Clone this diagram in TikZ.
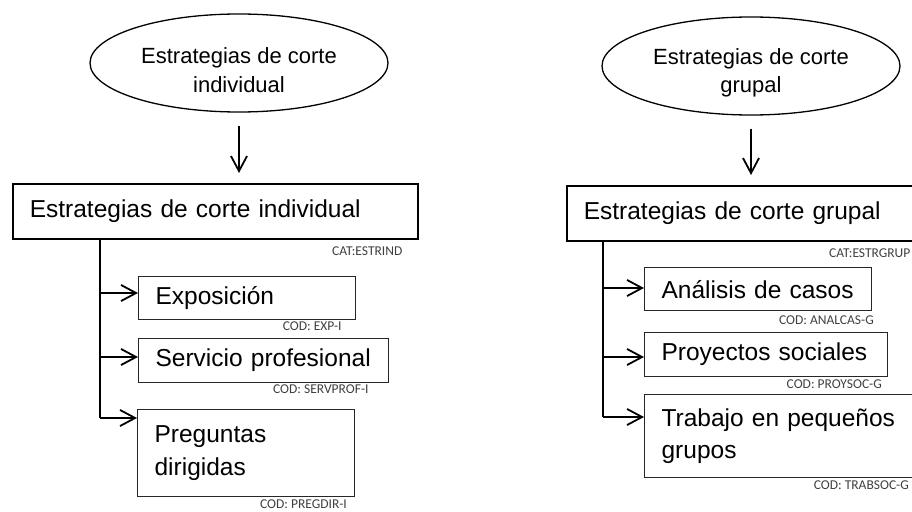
\documentclass[tikz,border=0pt]{standalone}
\usepackage{fontspec}
\setmainfont{Liberation Sans}
\newfontfamily\codfont{Carlito}
\usetikzlibrary{shapes.geometric,arrows.meta,positioning}
\tikzstyle{ovalbox} = [draw=black, line width=1.3pt, ellipse,
    minimum width=298pt, minimum height=98pt, inner sep=0pt,
    align=center, font=\fontsize{22}{28.5}\selectfont]
\tikzstyle{catbox} = [draw=black, line width=1.6pt, rectangle, anchor=north west,
    minimum height=55pt, inner xsep=17pt, inner ysep=0pt, align=left,
    font=\fontsize{24.5}{32.5}\selectfont]
\tikzstyle{subbox} = [draw=black!85, line width=1.2pt, rectangle, anchor=north west,
    inner xsep=17pt, inner ysep=0pt, align=left,
    font=\fontsize{24.5}{32.5}\selectfont]
\tikzstyle{codtext} = [text=black!75, inner sep=0pt, font=\codfont\fontsize{13.5}{14}\selectfont]
\tikzstyle{link} = [line width=1.8pt, -{Straight Barb[length=15pt, width=16pt]}]
\tikzstyle{trunkline} = [line width=1.8pt]
\newcommand{\lowstrut}{\rule{0pt}{30pt}}

\begin{document}
\begin{tikzpicture}[x=1pt, y=-1pt]
    \useasboundingbox (0,0) rectangle (912,511);
    \clip (0,0) rectangle (912,511);
    % estrategias individuales
    \node [ovalbox] (ell1) at (239,63) {\lowstrut Estrategias de corte\\individual};
    \node [catbox, text width=371pt] (cat1) at (12,183) {Estrategias de corte individual};
    \node [codtext, below left=10pt] at ([xshift=-9pt]cat1.south east) (codcat1) {CAT:ESTRIND};
    \draw [link, shorten <=13pt, shorten >=10pt] (ell1.south) -- (ell1.south |- cat1.north);

    \node [subbox, text width=183pt, minimum height=43pt] (exp1) at (138,276) {Exposición};
    \node [codtext, below left=2pt] at ([xshift=-13pt]exp1.south east) (codexp1) {COD: EXP-I};
    \node [subbox, text width=216pt, minimum height=44pt] (serv1) at (138,338) {Servicio profesional};
    \node [codtext, below left=2pt] at ([xshift=-19pt]serv1.south east) (codserv1) {COD: SERVPROF-I};
    \node [subbox, text width=183pt, minimum height=87pt] (preg1) at (137,409) {Preguntas\\dirigidas};
    \node [codtext, below left=3pt] at ([xshift=-6pt]preg1.south east) (codpreg1) {COD: PREGDIR-I};

    \coordinate (trunk1) at ([xshift=88pt]cat1.south west);
    \coordinate (inexp1) at ([yshift=-17pt]exp1.north west);
    \coordinate (inserv1) at ([yshift=-19pt]serv1.north west);
    \coordinate (inpreg1) at ([yshift=-9pt]preg1.north west);
    \draw [trunkline] (trunk1) -- (trunk1 |- inpreg1);
    \draw [link] (trunk1 |- inexp1) -- (inexp1);
    \draw [link] (trunk1 |- inserv1) -- (inserv1);
    \draw [link] (trunk1 |- inpreg1) -- (inpreg1);

    % estrategias grupales
    \node [ovalbox] (ell2) at (751,66) {\lowstrut Estrategias de corte\\grupal};
    \node [catbox, text width=325pt] (cat2) at (566,185) {Estrategias de corte grupal};
    \node [codtext, below left=10pt] at ([xshift=-9pt]cat2.south east) (codcat2) {CAT:ESTRGRUP};
    \draw [link, shorten <=13pt, shorten >=10pt] (ell2.south) -- (ell2.south |- cat2.north);

    \node [subbox, text width=193pt, minimum height=43pt] (anal2) at (644,267) {Análisis de casos};
    \node [codtext, below left=6pt] at ([xshift=6pt]anal2.south east) (codanal2) {COD: ANALCAS-G};
    \node [subbox, text width=209pt, minimum height=44pt] (proy2) at (644,332) {Proyectos sociales};
    \node [codtext, below left=3pt] at ([xshift=-4pt]proy2.south east) (codproy2) {COD: PROYSOC-G};
    \node [subbox, text width=246pt, minimum height=83pt] (trab2) at (644,394) {Trabajo en pequeños\\grupos};
    \node [codtext, below left=3pt] at ([xshift=-14pt]trab2.south east) (codtrab2) {COD: TRABSOC-G};

    \coordinate (trunk2) at ([xshift=37pt]cat2.south west);
    \coordinate (inanal2) at ([yshift=-21pt]anal2.north west);
    \coordinate (inproy2) at ([yshift=-25pt]proy2.north west);
    \coordinate (intrab2) at ([yshift=-23pt]trab2.north west);
    \draw [trunkline] (trunk2) -- (trunk2 |- intrab2);
    \draw [link] (trunk2 |- inanal2) -- (inanal2);
    \draw [link] (trunk2 |- inproy2) -- (inproy2);
    \draw [link] (trunk2 |- intrab2) -- (intrab2);
\end{tikzpicture}
\end{document}
